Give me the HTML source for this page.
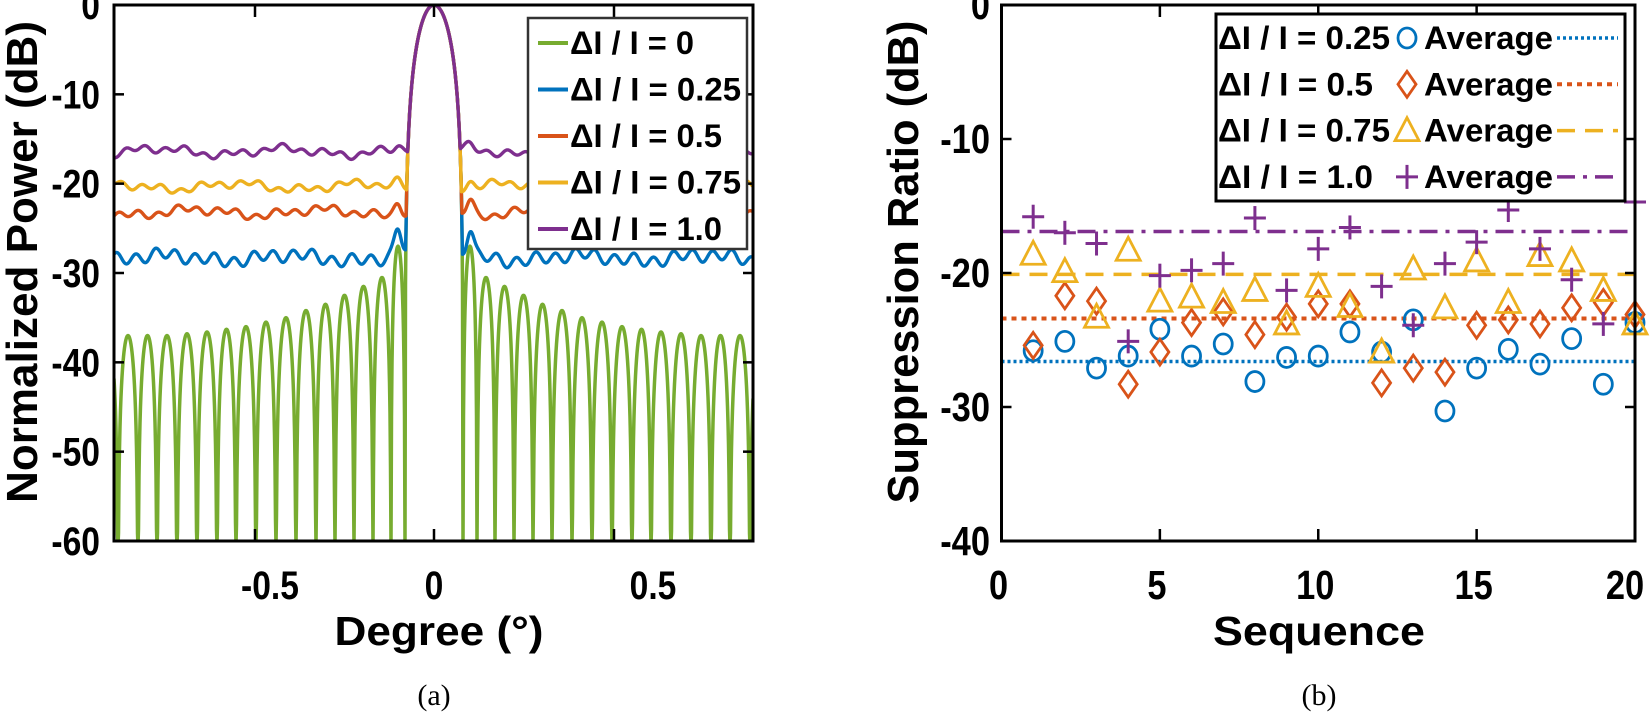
<!DOCTYPE html>
<html><head><meta charset="utf-8"><style>
html,body{margin:0;padding:0;background:#fff;}
svg{display:block;font-family:"Liberation Sans",Arial,sans-serif;font-weight:bold;}
</style></head><body>
<svg id="s" width="1650" height="717" viewBox="0 0 1650 717" xmlns="http://www.w3.org/2000/svg">
<rect width="1650" height="717" fill="#fff"/>
<g id="a"></g>
<g id="b"></g>
</svg>
<script>
const NS="http://www.w3.org/2000/svg";
function el(p,t,at,txt){const e=document.createElementNS(NS,t);for(const k in at)e.setAttribute(k,at[k]);if(txt!==undefined)e.textContent=txt;p.appendChild(e);return e;}
function nw(s){let w=0;for(const c of s){w+= c=='-'?0.333:(c=='.'?0.278:0.556);}return w;}
function tk(p,x,y,s,fs,anchor){return el(p,'text',{x:x,y:y,'text-anchor':anchor,'font-size':fs,textLength:(nw(s)*fs*0.84).toFixed(1),lengthAdjust:'spacingAndGlyphs'},s);}
const A=document.getElementById('a'),B=document.getElementById('b');
// ---------- Plot (a) ----------
const L=114,R=753,T=5,Bt=541,X0=434,pdb=(Bt-T)/60;
const ya=d=>T-d*pdb;
let nullsR=[29,43,61,80,99,118,138,158,178,198,217,237,257,277,296,316,336];
let lev=[-27,-30.5,-31.5,-32.5,-33.5,-34.2,-35,-35.5,-36,-36.3,-36.6,-36.8,-37,-37,-37,-37.2];
function green(d){d=Math.abs(d);
  if(d<29){return 20*Math.log10(Math.max(1e-4,Math.cos(Math.PI/2*d/29)));}
  for(let i=0;i<nullsR.length-1;i++){if(d>=nullsR[i]&&d<nullsR[i+1]){const t=(d-nullsR[i])/(nullsR[i+1]-nullsR[i]);return lev[i]+20*Math.log10(Math.max(1e-4,Math.sin(Math.PI*t)));}}
  return -60;}
function main(d){d=Math.abs(d);if(d>=29)return -100;return 20*Math.log10(Math.max(1e-4,Math.cos(Math.PI/2*d/29)));}
el(A,'defs',{}).innerHTML='<clipPath id="ca"><rect x="'+L+'" y="'+T+'" width="'+(R-L)+'" height="'+(Bt-T)+'"/></clipPath>';
const G=el(A,'g',{'clip-path':'url(#ca)'});
function pathG(f,col,w){let s='';for(let x=L;x<=R;x+=0.5){let v=f(x-X0);v=Math.max(-60.5,Math.min(0,v));s+=(s?'L':'M')+x.toFixed(1)+' '+ya(v).toFixed(2);}el(G,'path',{d:s,fill:'none',stroke:col,'stroke-width':w,'stroke-linejoin':'round'});}
pathG(green,'#77AC30',3.5);
function flat(base,amp,bump,seed){return d=>{const ad=Math.abs(d);
  let r=base+amp*Math.sin(ad*2*Math.PI/19.6+seed)+0.35*Math.sin(ad*0.05+seed*2)+0.25*Math.sin(ad*0.13+seed*3)*(d>0?1:-1);
  if(ad<60)r+=bump*Math.exp(-Math.pow((ad-36)/5,2));
  return Math.max(r,main(d));};}
pathG(flat(-28.3,0.6,3.2,0.3),'#0072BD',3.4);
pathG(flat(-23.2,0.35,1.4,1.1),'#D95319',3.4);
pathG(flat(-20.3,0.3,0.6,2.1),'#EDB120',3.4);
pathG(flat(-16.4,0.3,0.3,3.3),'#7E2F8E',3.4);
el(A,'rect',{x:L,y:T,width:R-L,height:Bt-T,fill:'none',stroke:'#000','stroke-width':3});
for(let d=-10;d>=-50;d-=10){const y=ya(d);el(A,'line',{x1:L,y1:y,x2:L+10,y2:y,stroke:'#000','stroke-width':2.5});el(A,'line',{x1:R,y1:y,x2:R-10,y2:y,stroke:'#000','stroke-width':2.5});}
[255,434,614].forEach(x=>{el(A,'line',{x1:x,y1:T,x2:x,y2:T+12,stroke:'#000','stroke-width':2.5});el(A,'line',{x1:x,y1:Bt,x2:x,y2:Bt-12,stroke:'#000','stroke-width':2.5});});
for(let d=0;d>=-60;d-=10){tk(A,100,ya(d)+14,String(d),40,'end');}
tk(A,270,599,'-0.5',40,'middle');
tk(A,434,599,'0',40,'middle');
tk(A,653,599,'0.5',40,'middle');
el(A,'text',{x:439,y:645,'text-anchor':'middle','font-size':41,textLength:209,lengthAdjust:'spacingAndGlyphs'},'Degree (°)');
el(A,'text',{x:0,y:0,'text-anchor':'middle','font-size':44,textLength:482,lengthAdjust:'spacingAndGlyphs',transform:'translate(37,262) rotate(-90)'},'Normalized Power (dB)');
el(A,'text',{x:434,y:705,'text-anchor':'middle','font-size':30,'font-weight':'normal','font-family':'Liberation Serif,serif'},'(a)');
el(A,'rect',{x:528,y:18,width:219,height:231,fill:'#fff',stroke:'#333','stroke-width':2.5});
const la=[['ΔI / I = 0','#77AC30',124],['ΔI / I = 0.25','#0072BD',171],['ΔI / I = 0.5','#D95319',152],['ΔI / I = 0.75','#EDB120',171],['ΔI / I = 1.0','#7E2F8E',152]];
la.forEach((r,i)=>{const by=54+i*46.5;el(A,'line',{x1:538,y1:by-11,x2:568,y2:by-11,stroke:r[1],'stroke-width':4});el(A,'text',{x:570,y:by,'font-size':32,textLength:r[2],lengthAdjust:'spacingAndGlyphs'},r[0]);});
// ---------- Plot (b) ----------
const bL=1001.5,bR=1635,bT=5,bB=541;
const xb=n=>bL+(bR-bL)*n/20, yb=d=>bT-d*(bB-bT)/40;
const cols=['#0072BD','#D95319','#EDB120','#7E2F8E'];
const avg=[-26.6,-23.4,-20.1,-16.9];
const dash=['3,3','5,5','18,10','18,8,4,8'];
avg.forEach((a,i)=>el(B,'line',{x1:bL,y1:yb(a),x2:bR,y2:yb(a),stroke:cols[i],'stroke-width':i==1?4:3.5,'stroke-dasharray':dash[i]}));
const data=[
[-25.8,-25.1,-27.1,-26.2,-24.2,-26.2,-25.3,-28.1,-26.3,-26.2,-24.4,-25.9,-23.5,-30.3,-27.1,-25.7,-26.8,-24.9,-28.3,-23.7],
[-25.4,-21.7,-22.1,-28.3,-25.9,-23.7,-22.9,-24.6,-23.3,-22.3,-22.3,-28.2,-27.1,-27.4,-23.9,-23.5,-23.8,-22.6,-22.2,-23.1],
[-18.6,-19.9,-23.3,-18.3,-22.1,-21.8,-22.2,-21.3,-23.8,-21.0,-22.5,-25.9,-19.7,-22.6,-19.1,-22.2,-18.7,-19.1,-21.3,-23.8],
[-15.8,-17.0,-17.8,-25.1,-20.2,-19.8,-19.3,-15.9,-21.3,-18.2,-16.6,-21.0,-23.9,-19.3,-17.7,-15.3,-18.2,-20.5,-23.8,-14.7]];
function marker(p,k,x,y){const c=cols[k];
 if(k==0)el(p,'ellipse',{cx:x,cy:y,rx:9,ry:10,fill:'none',stroke:c,'stroke-width':2.8});
 if(k==1)el(p,'polygon',{points:`${x},${y-13} ${x+9},${y} ${x},${y+13} ${x-9},${y}`,fill:'none',stroke:c,'stroke-width':2.8});
 if(k==2)el(p,'polygon',{points:`${x},${y-13} ${x+12},${y+10} ${x-12},${y+10}`,fill:'none',stroke:c,'stroke-width':2.8});
 if(k==3){el(p,'line',{x1:x-11,y1:y,x2:x+11,y2:y,stroke:c,'stroke-width':3});el(p,'line',{x1:x,y1:y-12,x2:x,y2:y+12,stroke:c,'stroke-width':3});}}
data.forEach((arr,k)=>arr.forEach((v,i)=>marker(B,k,xb(i+1),yb(v))));
el(B,'rect',{x:bL,y:bT,width:bR-bL,height:bB-bT,fill:'none',stroke:'#000','stroke-width':3});
[5,10,15].forEach(n=>{const x=xb(n);el(B,'line',{x1:x,y1:bT,x2:x,y2:bT+12,stroke:'#000','stroke-width':2.5});el(B,'line',{x1:x,y1:bB,x2:x,y2:bB-12,stroke:'#000','stroke-width':2.5});});
[-10,-20,-30].forEach(d=>{const y=yb(d);el(B,'line',{x1:bL,y1:y,x2:bL+10,y2:y,stroke:'#000','stroke-width':2.5});el(B,'line',{x1:bR,y1:y,x2:bR-10,y2:y,stroke:'#000','stroke-width':2.5});});
for(let d=0;d>=-40;d-=10)tk(B,990,yb(d)+14,String(d),41,'end');
[0,5,10,15,20].forEach(n=>tk(B,n==20?1625:xb(n)-3,599,String(n),41,'middle'));
el(B,'text',{x:1319,y:645,'text-anchor':'middle','font-size':41,textLength:212,lengthAdjust:'spacingAndGlyphs'},'Sequence');
el(B,'text',{x:0,y:0,'text-anchor':'middle','font-size':44,textLength:483,lengthAdjust:'spacingAndGlyphs',transform:'translate(918,262) rotate(-90)'},'Suppression Ratio (dB)');
el(B,'text',{x:1319,y:705,'text-anchor':'middle','font-size':30,'font-weight':'normal','font-family':'Liberation Serif,serif'},'(b)');
el(B,'rect',{x:1216,y:14,width:409,height:187,fill:'#fff',stroke:'#000','stroke-width':3});
const lb=[['ΔI / I = 0.25',172],['ΔI / I = 0.5',155],['ΔI / I = 0.75',172],['ΔI / I = 1.0',155]];
lb.forEach((r,i)=>{const by=49+i*46.3;
 el(B,'text',{x:1218,y:by,'font-size':32,textLength:r[1],lengthAdjust:'spacingAndGlyphs'},r[0]);
 marker(B,i,1407,by-11);
 el(B,'text',{x:1424,y:by,'font-size':32,textLength:129,lengthAdjust:'spacingAndGlyphs'},'Average');
 el(B,'line',{x1:1557,y1:by-11,x2:1618,y2:by-11,stroke:cols[i],'stroke-width':i==1?4:3.5,'stroke-dasharray':dash[i]});});
</script>
</body></html>
